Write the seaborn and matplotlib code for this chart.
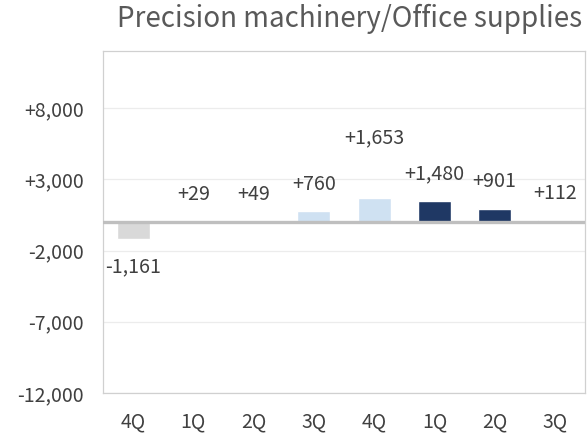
import matplotlib
matplotlib.use("Agg")
import matplotlib.pyplot as plt
import seaborn as sns
import pandas as pd
import numpy as np

# Data
quarters = ["4Q", "1Q", "2Q", "3Q", "4Q", "1Q", "2Q", "3Q"]
values = [-1161, 29, 49, 760, 1653, 1480, 901, 112]
labels = ["-1,161", "+29", "+49", "+760", "+1,653", "+1,480", "+901", "+112"]
label_y = [-3120, 1920, 1920, 2620, 5900, 3390, 2830, 1990]
bar_colors = ["#d9d9d9", "#cfe1f2", "#cfe1f2", "#cfe1f2", "#cfe1f2",
              "#1f3864", "#1f3864", "#1f3864"]
yticks = [-12000, -7000, -2000, 3000, 8000]
ytick_labels = ["-12,000", "-7,000", "-2,000", "+3,000", "+8,000"]
title = "Precision machinery/Office supplies"

sns.set_theme(style="white")
plt.rcParams['font.family'] = ['Noto Sans CJK JP', 'DejaVu Sans']

df = pd.DataFrame({"pos": [f"{i}" for i in range(len(values))], "value": values})

fig = plt.figure(figsize=(5.88, 4.40), dpi=100)
ax = fig.add_axes([103/588, 1-393/440, (585-103)/588, (393-51)/440])

sns.barplot(data=df, x="pos", y="value", hue="pos", palette=bar_colors,
            legend=False, width=0.55, ax=ax, saturation=1, zorder=3)

ax.set_ylim(-12000, 12000)
ax.set_yticks(yticks)
ax.set_yticklabels(ytick_labels)
ax.set_xticks(range(len(quarters)))
ax.set_xticklabels(quarters)
ax.set_xlim(-0.5, len(quarters) - 0.5)
ax.set_xlabel("")
ax.set_ylabel("")

ax.tick_params(axis="both", length=0, labelsize=14, colors="#404040")
ax.tick_params(axis="y", pad=14)
ax.tick_params(axis="x", pad=13)

for y in yticks:
    ax.axhline(y, color="#ececec", lw=0.9, zorder=1)
ax.axhline(0, color="#bfbfbf", lw=2.4, zorder=4)

for s in ax.spines.values():
    s.set_color("#d0d0d0")
    s.set_linewidth(0.9)

for i, (lab, ly) in enumerate(zip(labels, label_y)):
    ax.text(i, ly, lab, ha="center", va="center", fontsize=14.2, color="#404040")

fig.text(582/588, 1-19/440, title, ha="right", va="center", fontsize=20,
         color="#595959")

fig.savefig("out.png", dpi=100)
